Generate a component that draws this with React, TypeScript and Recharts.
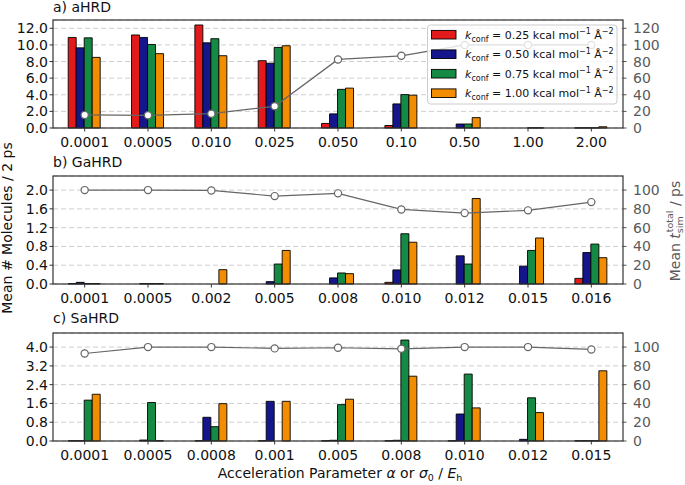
import { Bar, CartesianGrid, ComposedChart, Line, XAxis, YAxis } from "recharts";

// panel a) aHRD
const aCats = ["0.0001", "0.0005", "0.010", "0.025", "0.050", "0.10", "0.50", "1.00", "2.00"];
const aK025 = [10.9, 11.2, 12.4, 8.1, 0.55, 0.3, 0, 0, 0.02];
const aK050 = [9.65, 10.9, 10.25, 7.8, 1.7, 2.9, 0.48, 0, 0.02];
const aK075 = [10.85, 10.05, 10.75, 9.7, 4.65, 4.02, 0.48, 0.02, 0.02];
const aK100 = [8.5, 8.95, 8.7, 9.9, 4.8, 3.95, 1.25, 0.02, 0.15];
const aTime = [15.7, 15.3, 17.3, 26.1, 82.5, 86.9, 100, 100, 100];

// panel b) GaHRD
const bCats = ["0.0001", "0.0005", "0.002", "0.005", "0.008", "0.010", "0.012", "0.015", "0.016"];
const bK025 = [0.01, 0, 0, 0, 0, 0.035, 0, 0, 0.12];
const bK050 = [0.035, 0.01, 0, 0.05, 0.13, 0.3, 0.6, 0.38, 0.67];
const bK075 = [0.01, 0.01, 0, 0.425, 0.235, 1.07, 0.425, 0.715, 0.85];
const bK100 = [0.01, 0.01, 0.305, 0.715, 0.22, 0.89, 1.82, 0.98, 0.56];
const bTime = [100, 100, 99.6, 93.6, 96.5, 79.4, 75.5, 78.4, 87.2];

// panel c) SaHRD
const cCats = ["0.0001", "0.0005", "0.0008", "0.001", "0.005", "0.008", "0.010", "0.012", "0.015"];
const cK025 = [0.01, 0, 0.01, 0.01, 0.01, 0.01, 0.01, 0, 0.01];
const cK050 = [0.01, 0.04, 1.01, 1.69, 0.03, 0.03, 1.15, 0.07, 0.01];
const cK075 = [1.74, 1.64, 0.61, 0, 1.55, 4.3, 2.85, 1.84, 0.01];
const cK100 = [1.99, 0.01, 1.59, 1.69, 1.78, 2.76, 1.41, 1.21, 2.99];
const cTime = [93.2, 100, 100, 98.6, 99.3, 98.2, 100, 100, 97.5];

const aTicks = [0, 2, 4, 6, 8, 10, 12];
const bTicks = [0, 0.4, 0.8, 1.2, 1.6, 2.0];
const cTicks = [0, 0.8, 1.6, 2.4, 3.2, 4.0];
const aRightTicks = [0, 20, 40, 60, 80, 100, 120];
const bcRightTicks = [0, 20, 40, 60, 80, 100];

const kLabels = ["0.25", "0.50", "0.75", "1.00"];
const COLORS = ["#e31a1c", "#15158c", "#148a44", "#f28c00"];
const KEYS = ["k025", "k050", "k075", "k100"];

const W = 685;
const FONT = "'DejaVu Sans', sans-serif";

function Panel({ top, cats, series, time, leftMax, leftTicks, rightMax, rightTicks }) {
  const data = cats.map((c, i) => ({
    cat: c,
    k025: series[0][i],
    k050: series[1][i],
    k075: series[2][i],
    k100: series[3][i],
    t: time[i],
  }));
  return (
    <div style={{ position: "absolute", left: 0, top }}>
      <ComposedChart
        width={W}
        height={150}
        data={data}
        margin={{ top: 20, right: 0, bottom: 0, left: 0 }}
        barCategoryGap="24%"
        barGap={0}
      >
        <CartesianGrid yAxisId="l" vertical={false} stroke="#cfcfcf" strokeDasharray="5 3" />
        <XAxis
          dataKey="cat"
          interval={0}
          height={22}
          axisLine={false}
          tickLine={{ stroke: "#333" }}
          tickSize={3.5}
          tickMargin={6}
          tick={{ fontSize: 14, fill: "#111" }}
        />
        <YAxis
          yAxisId="l"
          type="number"
          domain={[0, leftMax]}
          ticks={leftTicks}
          interval={0}
          width={53}
          axisLine={false}
          tickLine={{ stroke: "#333" }}
          tickSize={3.5}
          tickMargin={1.5}
          tick={{ fontSize: 14, fill: "#111" }}
          tickFormatter={(v) => v.toFixed(1)}
        />
        <YAxis
          yAxisId="r"
          orientation="right"
          type="number"
          domain={[0, rightMax]}
          ticks={rightTicks}
          interval={0}
          width={62}
          axisLine={false}
          tickLine={{ stroke: "#555" }}
          tickSize={3.5}
          tickMargin={6.5}
          tick={{ fontSize: 14, fill: "#5a5a5a" }}
        />
        {KEYS.map((k, i) => (
          <Bar
            key={k}
            yAxisId="l"
            dataKey={k}
            fill={COLORS[i]}
            stroke="#000"
            strokeWidth={0.9}
            isAnimationActive={false}
          />
        ))}
        <Line
          yAxisId="r"
          dataKey="t"
          stroke="#666"
          strokeWidth={1.2}
          dot={{ r: 3.6, fill: "#fff", stroke: "#666", strokeWidth: 1.2 }}
          isAnimationActive={false}
        />
      </ComposedChart>
    </div>
  );
}

function LegendRow({ i, cy }) {
  return (
    <g>
      <rect x={431.5} y={cy - 4.3} width={24.5} height={8.6} fill={COLORS[i]} stroke="#000" strokeWidth={0.9} />
      <text x={465} y={cy + 4} fontSize={11} fill="#111" style={{ whiteSpace: "pre" }}>
        <tspan fontStyle="italic">k</tspan>
        <tspan fontSize={8} dy={3}>conf</tspan>
        <tspan dy={-3}>{` = ${kLabels[i]} kcal mol`}</tspan>
        <tspan fontSize={8} dy={-4.5}>−1</tspan>
        <tspan dy={4.5}> Å</tspan>
        <tspan fontSize={8} dy={-4.5}>−2</tspan>
      </text>
    </g>
  );
}

function Overlay() {
  const frames = [20, 176, 333];
  const rows = [34.7, 54.2, 73.7, 93.2];
  return (
    <svg
      width={W}
      height={485}
      style={{ position: "absolute", left: 0, top: 0, pointerEvents: "none", fontFamily: FONT }}
    >
      {frames.map((y) => (
        <rect key={y} x={53} y={y} width={570} height={108} fill="none" stroke="#333" strokeWidth={1.2} />
      ))}
      <text x={53} y={11.5} fontSize={14} fill="#111">a) aHRD</text>
      <text x={53} y={166.5} fontSize={14} fill="#111">b) GaHRD</text>
      <text x={53} y={323} fontSize={14} fill="#111">c) SaHRD</text>

      <rect x={427.5} y={25} width={189.5} height={79} rx={3} fill="#fff" fillOpacity={0.8} stroke="#cccccc" />
      {rows.map((cy, i) => (
        <LegendRow key={i} i={i} cy={cy} />
      ))}

      <text transform="translate(12,228) rotate(-90)" textAnchor="middle" fontSize={14} fill="#111">
        Mean # Molecules / 2 ps
      </text>
      <text
        transform="translate(680,231) rotate(-90)"
        textAnchor="middle"
        fontSize={14}
        fill="#5a5a5a"
        style={{ whiteSpace: "pre" }}
      >
        <tspan>Mean </tspan>
        <tspan fontStyle="italic">t</tspan>
        <tspan fontSize={9.5} dy={3}>sim</tspan>
        <tspan fontSize={9.5} dx={-16} dy={-10}>total</tspan>
        <tspan dy={7}> / ps</tspan>
      </text>
      <text x={340} y={477.5} textAnchor="middle" fontSize={14} fill="#111" style={{ whiteSpace: "pre" }}>
        <tspan>Acceleration Parameter </tspan>
        <tspan fontStyle="italic">α</tspan>
        <tspan> or </tspan>
        <tspan fontStyle="italic">σ</tspan>
        <tspan fontSize={9.5} dy={3}>0</tspan>
        <tspan dy={-3}> / </tspan>
        <tspan fontStyle="italic">E</tspan>
        <tspan fontSize={9.5} dy={3}>h</tspan>
      </text>
    </svg>
  );
}

export default function App() {
  return (
    <div
      style={{
        position: "absolute",
        left: 0,
        top: 0,
        width: W,
        height: 485,
        background: "#fff",
        fontFamily: FONT,
      }}
    >
      <Panel
        top={0}
        cats={aCats}
        series={[aK025, aK050, aK075, aK100]}
        time={aTime}
        leftMax={13}
        leftTicks={aTicks}
        rightMax={130}
        rightTicks={aRightTicks}
      />
      <Panel
        top={156}
        cats={bCats}
        series={[bK025, bK050, bK075, bK100]}
        time={bTime}
        leftMax={2.3}
        leftTicks={bTicks}
        rightMax={115}
        rightTicks={bcRightTicks}
      />
      <Panel
        top={313}
        cats={cCats}
        series={[cK025, cK050, cK075, cK100]}
        time={cTime}
        leftMax={4.6}
        leftTicks={cTicks}
        rightMax={115}
        rightTicks={bcRightTicks}
      />
      <Overlay />
    </div>
  );
}
